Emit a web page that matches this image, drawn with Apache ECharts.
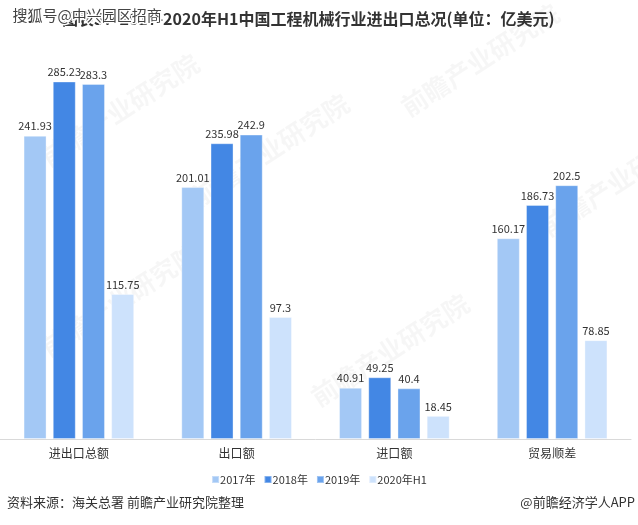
<!DOCTYPE html>
<html>
<head>
<meta charset="utf-8">
<script src="https://cdn.jsdelivr.net/npm/echarts@6/dist/echarts.min.js"></script>
<style>
html,body{margin:0;padding:0;background:#fff;}
#c{width:638px;height:525px;}
</style>
</head>
<body>
<div id="c"></div>
<script>
var categories = ['进出口总额', '出口额', '进口额', '贸易顺差'];
var seriesNames = ['2017年', '2018年', '2019年', '2020年H1'];
var v2017 = [241.93, 201.01, 40.91, 160.17];
var v2018 = [285.23, 235.98, 49.25, 186.73];
var v2019 = [283.3, 242.9, 40.4, 202.5];
var v2020H1 = [115.75, 97.3, 18.45, 78.85];
var titleText = '图表5：2017-2020年H1中国工程机械行业进出口总况(单位：亿美元)';
var sourceText = '资料来源：海关总署 前瞻产业研究院整理';
var creditText = '@前瞻经济学人APP';
var overlayText = '搜狐号@中兴园区招商';
var watermarkText = '前瞻产业研究院';

var colors = ['#a3c8f5', '#4387e4', '#6aa3ec', '#cde2fc'];
var allValues = [v2017, v2018, v2019, v2020H1];
var FONT = '"Noto Sans CJK SC", "Noto Sans", sans-serif';

var series = seriesNames.map(function (name, i) {
  return {
    name: name,
    type: 'bar',
    data: allValues[i],
    barWidth: 23,
    barGap: '27%',
    itemStyle: { color: colors[i], borderColor: 'rgba(255,255,255,0.35)', borderWidth: 1 },
    label: {
      show: true, position: 'top', distance: 4,
      color: '#333', fontSize: 11, fontFamily: FONT
    }
  };
});

var wm = [
  [120, 110], [270, 150], [120, 300], [390, 350], [620, 180], [480, 60]
].map(function (p) {
  return {
    type: 'text', x: p[0], y: p[1], rotation: Math.PI * 33 / 180, z: 0, silent: true,
    style: { text: watermarkText, fill: 'rgba(0,0,0,0.035)', font: 'bold 26px ' + FONT, align: 'center', verticalAlign: 'middle' }
  };
});

var chart = echarts.init(document.getElementById('c'), null, { renderer: 'canvas' });
chart.setOption({
  backgroundColor: '#fff',
  animation: false,
  color: colors,
  grid: { left: -3, right: 7, top: 63, bottom: 86, containLabel: false },
  xAxis: {
    type: 'category', data: categories,
    axisLine: { lineStyle: { color: '#d9d9d9' } },
    axisTick: { show: false },
    axisLabel: { color: '#333', fontSize: 12, margin: 8, fontFamily: FONT }
  },
  yAxis: { type: 'value', min: 0, max: 300, show: false, splitLine: { show: false } },
  legend: {
    data: seriesNames, left: 'center', top: 469, icon: 'rect',
    itemWidth: 7, itemHeight: 7, itemGap: 8,
    textStyle: { color: '#333', fontSize: 11, fontFamily: FONT, padding: [0, 0, 0, -4] }
  },
  graphic: wm.concat([
    { type: 'text', left: 62, top: 11, z: 10,
      style: { text: titleText, fill: '#333', font: 'bold 16px ' + FONT } },
    { type: 'text', left: 11, top: 6, z: 11,
      style: { text: overlayText, fill: '#444', font: '15px ' + FONT, stroke: '#fff', lineWidth: 3 } },
    { type: 'text', left: 7, top: 496, z: 10,
      style: { text: sourceText, fill: '#333', font: '13px ' + FONT } },
    { type: 'text', right: 3, top: 496, z: 10,
      style: { text: creditText, fill: '#333', font: '13px ' + FONT } }
  ]),
  series: series
});
</script>
</body>
</html>
